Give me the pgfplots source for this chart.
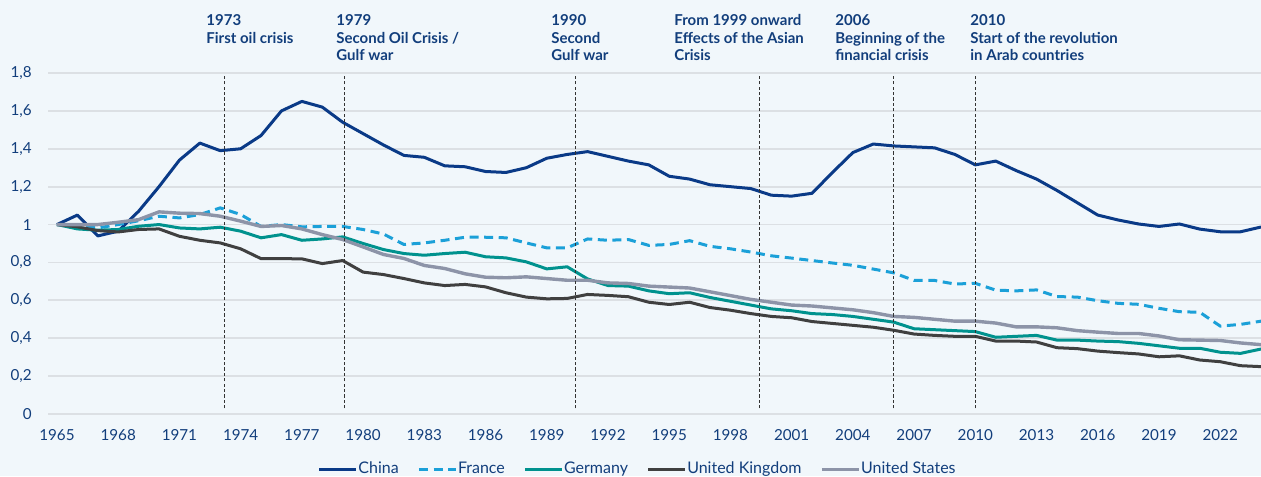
\documentclass[border=0pt]{standalone}
\usepackage{pgfplots}
\usepackage{pgfplotstable}
\pgfplotsset{compat=1.18}
\usepackage{fontspec}
\setmainfont{Lato}
\definecolor{bg}{HTML}{F1F7FB}
\definecolor{navy}{HTML}{123E7C}
\definecolor{china}{HTML}{0A3A87}
\definecolor{france}{HTML}{1BA0D8}
\definecolor{germany}{HTML}{00928E}
\definecolor{uk}{HTML}{404040}
\definecolor{us}{HTML}{8D94A8}
\definecolor{gridc}{HTML}{DCE0E4}

\pgfplotstableread{
year china france germany uk us
1965 1.000 1.000 1.000 1.000 1.000
1966 1.050 0.990 0.977 0.988 1.000
1967 0.940 0.982 0.970 0.968 1.000
1968 0.965 1.000 0.974 0.961 1.012
1969 1.070 1.020 0.991 0.974 1.026
1970 1.200 1.044 1.000 0.977 1.067
1971 1.340 1.035 0.982 0.938 1.060
1972 1.430 1.053 0.977 0.917 1.058
1973 1.390 1.088 0.986 0.903 1.044
1974 1.400 1.053 0.965 0.872 1.018
1975 1.470 0.990 0.930 0.820 0.990
1976 1.600 1.000 0.947 0.820 0.995
1977 1.650 0.988 0.917 0.819 0.977
1978 1.620 0.990 0.924 0.794 0.947
1979 1.540 0.990 0.935 0.810 0.921
1980 1.480 0.974 0.900 0.749 0.882
1981 1.420 0.950 0.868 0.736 0.842
1982 1.365 0.895 0.847 0.715 0.821
1983 1.355 0.903 0.838 0.692 0.784
1984 1.310 0.917 0.847 0.678 0.768
1985 1.305 0.933 0.854 0.684 0.740
1986 1.280 0.933 0.830 0.671 0.722
1987 1.275 0.930 0.824 0.640 0.719
1988 1.300 0.903 0.803 0.617 0.724
1989 1.350 0.877 0.766 0.608 0.715
1990 1.370 0.877 0.777 0.610 0.706
1991 1.385 0.924 0.713 0.631 0.706
1992 1.360 0.917 0.678 0.626 0.692
1993 1.335 0.921 0.675 0.619 0.689
1994 1.315 0.890 0.650 0.590 0.675
1995 1.255 0.895 0.635 0.578 0.670
1996 1.240 0.915 0.640 0.590 0.665
1997 1.210 0.885 0.615 0.562 0.645
1998 1.200 0.872 0.595 0.548 0.625
1999 1.190 0.855 0.575 0.530 0.605
2000 1.155 0.835 0.555 0.515 0.590
2001 1.150 0.823 0.545 0.508 0.575
2002 1.165 0.810 0.530 0.488 0.570
2003 1.275 0.797 0.525 0.478 0.560
2004 1.380 0.785 0.515 0.468 0.550
2005 1.425 0.765 0.500 0.458 0.535
2006 1.415 0.745 0.485 0.442 0.515
2007 1.410 0.705 0.450 0.422 0.510
2008 1.405 0.705 0.445 0.415 0.500
2009 1.370 0.686 0.440 0.410 0.490
2010 1.315 0.690 0.435 0.410 0.490
2011 1.335 0.654 0.405 0.385 0.480
2012 1.285 0.650 0.410 0.385 0.460
2013 1.240 0.655 0.415 0.380 0.460
2014 1.180 0.620 0.390 0.350 0.455
2015 1.115 0.617 0.390 0.345 0.440
2016 1.050 0.598 0.385 0.332 0.432
2017 1.024 0.584 0.382 0.324 0.425
2018 1.003 0.579 0.373 0.317 0.425
2019 0.990 0.558 0.360 0.302 0.412
2020 1.003 0.540 0.347 0.307 0.392
2021 0.976 0.537 0.347 0.285 0.390
2022 0.962 0.464 0.326 0.276 0.388
2023 0.962 0.473 0.320 0.255 0.375
2024 0.987 0.490 0.343 0.250 0.366
}\datatable

\begin{document}
\begin{tikzpicture}
\fill[bg] (-24pt,-31pt) rectangle (606.5pt,207pt);
\begin{axis}[
  at={(0,0)}, anchor=south west,
  scale only axis, width=606.5pt, height=170.5pt,
  xmin=1964.56, xmax=2024, ymin=0, ymax=1.8,
  axis line style={draw=none},
  major tick length=0pt,
  ymajorgrids, grid style={gridc, line width=0.9pt},
  xtick={1965,1968,...,2022},
  ytick={0,0.2,0.4,0.6,0.8,1,1.2,1.4,1.6,1.8},
  /pgf/number format/.cd, use comma, fixed, precision=1, 1000 sep={}, assume math mode=true,
  /pgfplots/.cd,
  ticklabel style={font=\fontsize{7.6}{9}\selectfont, text=navy, inner sep=0pt},
  yticklabel style={anchor=east, xshift=-8pt},
  xticklabel style={anchor=north, yshift=-7.5pt},
  legend columns=5,
  legend style={at={(axis description cs:0.4856,-0.163)}, anchor=center, draw=none, fill=none,
    font=\fontsize{8}{9.5}\selectfont, text=navy,
    /tikz/every even column/.append style={column sep=9pt},
    /tikz/every odd column/.append style={column sep=0pt},
    nodes={inner sep=0.3pt}},
  legend image code/.code={\draw[#1] (0pt,0pt) -- (18.5pt,0pt);},
  every axis plot/.append style={line width=1.5pt, line join=round},
]
\addplot[china] table[x=year, y=china] {\datatable};
\addlegendentry{China}
\addplot[france, dash pattern=on 4.5pt off 2.8pt] table[x=year, y=france] {\datatable};
\addlegendentry{France}
\addplot[germany] table[x=year, y=germany] {\datatable};
\addlegendentry{Germany}
\addplot[uk] table[x=year, y=uk] {\datatable};
\addlegendentry{United Kingdom}
\addplot[us, line width=1.7pt] table[x=year, y=us] {\datatable};
\addlegendentry{United States}
\foreach \yr in {1973.2,1979.1,1990.4,1999.4,2006,2010}{
  \edef\tmp{\noexpand\draw[black!80, line width=0.5pt, dash pattern=on 1.6pt off 1.1pt] (axis cs:\yr,0.03) -- (axis cs:\yr,1.79);}
  \tmp
}
\end{axis}
\begin{scope}[every node/.style={anchor=north west, inner sep=0pt, align=left, text=navy,
    font=\fontsize{7.5}{8.85}\selectfont\bfseries}]
\node at (79pt,200pt) {1973\\First oil crisis};
\node at (144pt,200pt) {1979\\Second Oil Crisis /\\Gulf war};
\node at (251.5pt,200pt) {1990\\Second\\Gulf war};
\node at (313pt,200pt) {From 1999 onward\\Effects of the Asian\\Crisis};
\node at (393.5pt,200pt) {2006\\Beginning of the\\financial crisis};
\node at (461pt,200pt) {2010\\Start of the revolution\\in Arab countries};
\end{scope}
\pgfresetboundingbox
\useasboundingbox (-24pt,-31pt) rectangle (606.5pt,207pt);
\end{tikzpicture}
\end{document}
